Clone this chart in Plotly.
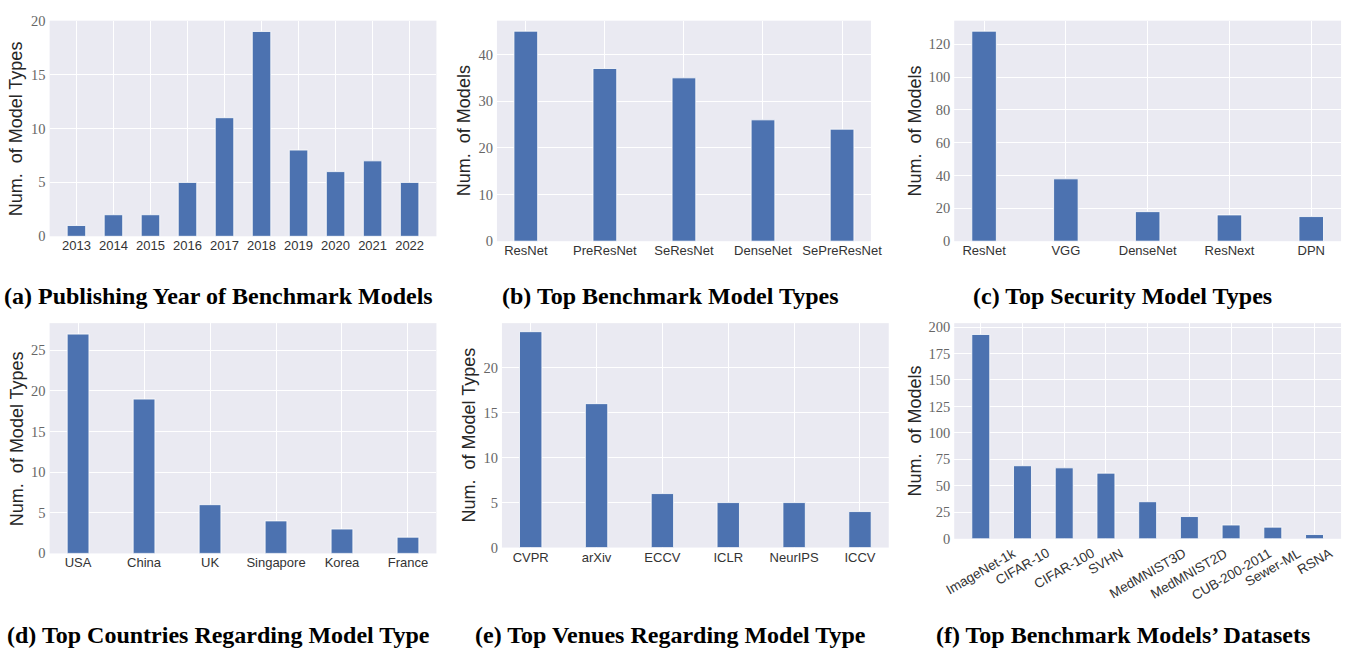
import plotly.graph_objects as go

W, H = 1362, 658

# ---------------- data ----------------
years = ["2013", "2014", "2015", "2016", "2017", "2018", "2019", "2020", "2021", "2022"]
year_counts = [1, 2, 2, 5, 11, 19, 8, 6, 7, 5]

bench_types = ["ResNet", "PreResNet", "SeResNet", "DenseNet", "SePreResNet"]
bench_counts = [45, 37, 35, 26, 24]

sec_types = ["ResNet", "VGG", "DenseNet", "ResNext", "DPN"]
sec_counts = [128, 38, 18, 16, 15]

countries = ["USA", "China", "UK", "Singapore", "Korea", "France"]
country_counts = [27, 19, 6, 4, 3, 2]

venues = ["CVPR", "arXiv", "ECCV", "ICLR", "NeurIPS", "ICCV"]
venue_counts = [24, 16, 6, 5, 5, 4]

datasets = ["ImageNet-1k", "CIFAR-10", "CIFAR-100", "SVHN", "MedMNIST3D",
            "MedMNIST2D", "CUB-200-2011", "Sewer-ML", "RSNA"]
dataset_counts = [193, 69, 67, 62, 35, 21, 13, 11, 4]

captions = [
    "(a) Publishing Year of Benchmark Models",
    "(b) Top Benchmark Model Types",
    "(c) Top Security Model Types",
    "(d) Top Countries Regarding Model Type",
    "(e) Top Venues Regarding Model Type",
    "(f) Top Benchmark Models\u2019 Datasets",
]
ytitles = ["Num.&nbsp; of Model Types", "Num.&nbsp; of Models", "Num.&nbsp; of Models",
           "Num.&nbsp; of Model Types", "Num.&nbsp; of Model Types", "Num.&nbsp; of Models"]
ydticks = [5, 10, 20, 5, 5, 25]
ytops = [20.0, 47.25, 134.4, 28.35, 24.95, 203.7]

# ---------------- layout geometry (pixels) ----------------
panels = [
    dict(cats=years, vals=year_counts, width=0.5, box=(50, 440, 13, 234), ytx=17, cap=(220, 295)),
    dict(cats=bench_types, vals=bench_counts, width=0.3, box=(501, 878, 13, 239), ytx=468, cap=(676, 295)),
    dict(cats=sec_types, vals=sec_counts, width=0.3, box=(962, 1352, 13, 239), ytx=922, cap=(1132, 295)),
    dict(cats=countries, vals=country_counts, width=0.33, box=(50, 440, 323, 559), ytx=17, cap=(220, 643)),
    dict(cats=venues, vals=venue_counts, width=0.34, box=(506, 896, 323, 553), ytx=473, cap=(676, 643)),
    dict(cats=datasets, vals=dataset_counts, width=0.43, box=(962, 1352, 323, 544), ytx=922, cap=(1132, 643)),
]

BAR = "#4C72B0"
BG = "#EAEAF2"
TICKSANS = dict(family="Liberation Sans, Arial, sans-serif", size=13, color="#333333")
TICKROT = dict(family="Liberation Sans, Arial, sans-serif", size=13.5, color="#333333")
TICKSERIF = dict(family="Liberation Serif, Times New Roman, serif", size=14.5, color="#666666")

fig = go.Figure()
annotations = []
layout = {}

for i, p in enumerate(panels, start=1):
    sfx = "" if i == 1 else str(i)
    x0, x1, y0, y1 = p["box"]
    n = len(p["cats"])
    w = p["width"]
    span = (n - 1) + w
    xr = [-w / 2 - 0.05 * span, (n - 1) + w / 2 + 0.05 * span]
    yr = [0, ytops[i - 1]]

    fig.add_trace(go.Bar(
        x=p["cats"], y=p["vals"], width=[w] * n,
        marker=dict(color=BAR, line=dict(color="white", width=0.8)),
        xaxis="x" + sfx, yaxis="y" + sfx, showlegend=False,
    ))

    rotated = (i == 6)
    layout["xaxis" + sfx] = dict(
        domain=[x0 / W, x1 / W], anchor="y" + sfx, type="category",
        range=xr, showgrid=True, gridcolor="white", gridwidth=1,
        showline=False, zeroline=False, ticks="", tickfont=TICKSANS,
        showticklabels=not rotated, fixedrange=True,
    )
    layout["yaxis" + sfx] = dict(
        domain=[1 - y1 / H, 1 - y0 / H], anchor="x" + sfx,
        range=yr, dtick=ydticks[i - 1], tick0=0, showgrid=True,
        gridcolor="white", gridwidth=1, showline=False, zeroline=False,
        ticks="", tickfont=TICKSERIF, ticklabelstandoff=3, fixedrange=True,
    )

    # y-axis title
    annotations.append(dict(
        text=ytitles[i - 1], xref="paper", yref="paper",
        x=p["ytx"] / W, y=1 - (y0 + y1) / 2 / H, textangle=-90,
        showarrow=False, xanchor="center", yanchor="middle",
        font=dict(family="Liberation Sans, Arial, sans-serif", size=18, color="#262626"),
    ))
    # caption
    cx, cy = p["cap"]
    annotations.append(dict(
        text="<b>" + captions[i - 1] + "</b>", xref="paper", yref="paper",
        x=cx / W, y=1 - cy / H, showarrow=False, xanchor="center", yanchor="middle",
        font=dict(family="Liberation Serif, Times New Roman, serif", size=24, color="black"),
    ))
    if rotated:
        for c in p["cats"]:
            annotations.append(dict(
                text=c, xref="x" + sfx, yref="y" + sfx, x=c, y=0,
                yshift=-4, textangle=-30, showarrow=False,
                xanchor="center", yanchor="top", font=TICKROT,
            ))

fig.update_layout(
    width=W, height=H, margin=dict(l=0, r=0, t=0, b=0),
    paper_bgcolor="white", plot_bgcolor=BG,
    annotations=annotations, **layout,
)

fig.write_html(
    "out.html",
    config={"displayModeBar": False},
    post_script=(
        "document.documentElement.style.margin='0';"
        "document.documentElement.style.overflow='hidden';"
        "document.body.style.margin='0';"
        "document.body.style.overflow='hidden';"
    ),
)
